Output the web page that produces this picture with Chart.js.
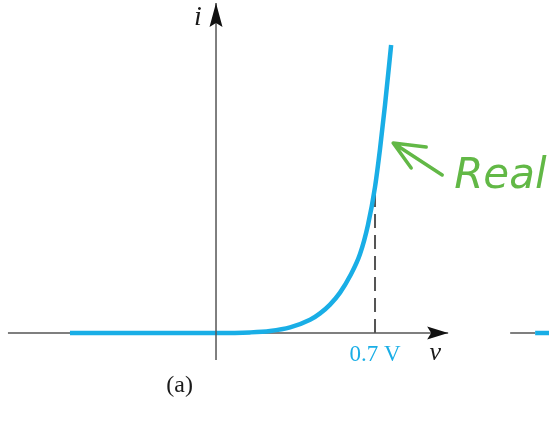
<!DOCTYPE html>
<html>
<head>
<meta charset="utf-8">
<script src="https://cdn.jsdelivr.net/npm/chart.js@4"></script>
<style>
  html, body { margin: 0; padding: 0; background: #fff; }
  #wrap { width: 549px; height: 421px; position: relative; }
</style>
</head>
<body>
<div id="wrap"><canvas id="diodeChart"></canvas></div>
<script>
// diode i-v curve (v in volts, i in arbitrary mA-ish units)
const voltage = [-0.643, 0, 0.15, 0.238, 0.326, 0.414, 0.458, 0.502, 0.546, 0.59, 0.634, 0.669, 0.7, 0.722, 0.744, 0.771];
const current = [0, 0, 0.03, 0.1, 0.28, 0.66, 0.98, 1.42, 2.02, 2.85, 3.95, 5.4, 7.3, 9.2, 11.4, 14.4];

const kneeVoltage = 0.7;
const kneeCurrent = 7.3;
const kneeLabel = "0.7 V";

// axis extents in data units
const vAxisRange = [-0.916, 1.022];
const iAxisRange = [-1.35, 16.5];

// cut-off piece of the next panel at the right edge
const nextAxisV = [1.295, 1.405];
const nextCurveV = [1.405, 1.5];

const blue = "#19aee6";
const axisGray = "#555555";
const green = "#62b846";

const pts = (xs, ys) => xs.map((x, k) => ({ x: x, y: ys[k] }));

const overlay = {
  id: "overlay",
  afterDatasetsDraw(chart) {
    const { ctx, scales } = chart;
    const X = (v) => scales.x.getPixelForValue(v);
    const Y = (i) => scales.y.getPixelForValue(i);
    ctx.save();

    // arrow heads
    ctx.fillStyle = "#111";
    const tipX = X(vAxisRange[1]), y0 = Y(0);
    ctx.beginPath();
    ctx.moveTo(tipX, y0);
    ctx.lineTo(tipX - 21, y0 - 6.5);
    ctx.lineTo(tipX - 17, y0);
    ctx.lineTo(tipX - 21, y0 + 6.5);
    ctx.closePath();
    ctx.fill();

    const tipY = Y(iAxisRange[1]), x0 = X(0);
    ctx.beginPath();
    ctx.moveTo(x0, tipY);
    ctx.lineTo(x0 - 6.5, tipY + 24);
    ctx.lineTo(x0, tipY + 20);
    ctx.lineTo(x0 + 6.5, tipY + 24);
    ctx.closePath();
    ctx.fill();

    // labels
    ctx.textAlign = "center";
    ctx.textBaseline = "alphabetic";
    ctx.fillStyle = "#1a1a1a";
    ctx.font = 'italic 28px "Liberation Serif"';
    ctx.fillText("i", x0 - 18, tipY + 22);
    ctx.font = 'italic 26px "Liberation Serif"';
    ctx.fillText("v", X(0.965), y0 + 27);
    ctx.fillStyle = blue;
    ctx.font = '23px "Liberation Serif"';
    ctx.fillText(kneeLabel, X(kneeVoltage), y0 + 28);
    ctx.fillStyle = "#1a1a1a";
    ctx.font = '24px "Liberation Serif"';
    ctx.fillText("(a)", X(-0.16), y0 + 59);

    // handwritten note
    ctx.strokeStyle = green;
    ctx.fillStyle = green;
    ctx.lineWidth = 3.5;
    ctx.lineCap = "round";
    ctx.lineJoin = "round";
    const ax = X(0.78), ay = Y(9.5);
    ctx.beginPath();
    ctx.moveTo(ax + 49, ay + 32);
    ctx.lineTo(ax, ay);
    ctx.moveTo(ax + 33, ay + 4);
    ctx.lineTo(ax, ay);
    ctx.lineTo(ax + 18, ay + 25);
    ctx.stroke();
    ctx.textAlign = "left";
    ctx.font = 'italic 42px "DejaVu Sans"';
    ctx.fillText("Real", ax + 61, ay + 45);

    ctx.restore();
  }
};

new Chart(document.getElementById("diodeChart"), {
  type: "line",
  data: {
    datasets: [
      {
        data: pts(voltage, current),
        borderColor: blue,
        borderWidth: 4.5,
        cubicInterpolationMode: "monotone",
        pointRadius: 0,
        order: 2,
      },
      {
        data: pts(vAxisRange, [0, 0]),
        borderColor: axisGray,
        borderWidth: 1.5,
        pointRadius: 0,
        order: 3,
      },
      {
        data: pts([0, 0], iAxisRange),
        borderColor: axisGray,
        borderWidth: 1.5,
        pointRadius: 0,
        order: 1,
      },
      {
        data: pts([kneeVoltage, kneeVoltage], [0, kneeCurrent]),
        borderColor: axisGray,
        borderWidth: 2,
        borderDash: [14, 7],
        pointRadius: 0,
        order: 3,
      },
      {
        data: pts(nextAxisV, [0, 0]),
        borderColor: axisGray,
        borderWidth: 1.5,
        pointRadius: 0,
        order: 3,
      },
      {
        data: pts(nextCurveV, [0, 0]),
        borderColor: blue,
        borderWidth: 4.5,
        pointRadius: 0,
        order: 2,
      },
    ],
  },
  options: {
    responsive: true,
    maintainAspectRatio: false,
    animation: false,
    layout: { padding: 0 },
    plugins: { legend: { display: false }, tooltip: { enabled: false } },
    scales: {
      x: { type: "linear", min: -0.951, max: 1.466, display: false },
      y: { type: "linear", min: -4.4, max: 16.65, display: false },
    },
  },
  plugins: [overlay],
});
</script>
</body>
</html>
